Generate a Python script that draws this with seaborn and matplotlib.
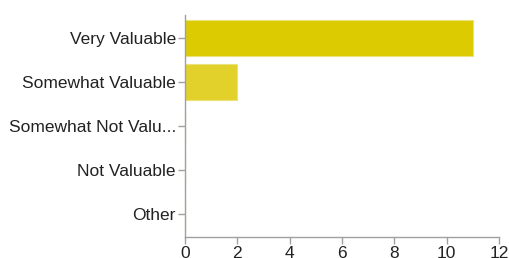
import matplotlib
matplotlib.use("Agg")
import matplotlib.pyplot as plt
import seaborn as sns
import pandas as pd

categories = ["Very Valuable", "Somewhat Valuable", "Somewhat Not Valu...", "Not Valuable", "Other"]
counts = [11, 2, 0, 0, 0]
colors = ["#dccb00", "#e2d12a", "#e6d84a", "#eadf6a", "#eee68a"]
xticks = [0, 2, 4, 6, 8, 10, 12]

sns.set_theme(style="white")
plt.rcParams["font.family"] = ["Liberation Sans", "DejaVu Sans"]

df = pd.DataFrame({"category": categories, "count": counts})

fig = plt.figure(figsize=(5.1, 2.58), dpi=100)
ax = fig.add_axes([185/510, 1-237/258, (499-185)/510, (237-15)/258])
sns.barplot(data=df, x="count", y="category", hue="category", palette=colors,
            saturation=1, legend=False, ax=ax, width=0.8, edgecolor="#ece27a",
            linewidth=0.8, order=categories, hue_order=categories)
ax.set_xlim(0, 12)
ax.set_ylim(4.52, -0.52)
ax.set_xticks(xticks)
ax.set_xlabel("")
ax.set_ylabel("")
for s in ["top", "right"]:
    ax.spines[s].set_visible(False)
for s in ["left", "bottom"]:
    ax.spines[s].set_color("#a0a0a0")
    ax.spines[s].set_linewidth(1.0)
ax.tick_params(axis="both", which="both", length=5, width=1, color="#a0a0a0",
               labelsize=12.5, labelcolor="#222222", pad=1.5, direction="out",
               bottom=True, left=True)
fig.savefig("out.png", dpi=100)
